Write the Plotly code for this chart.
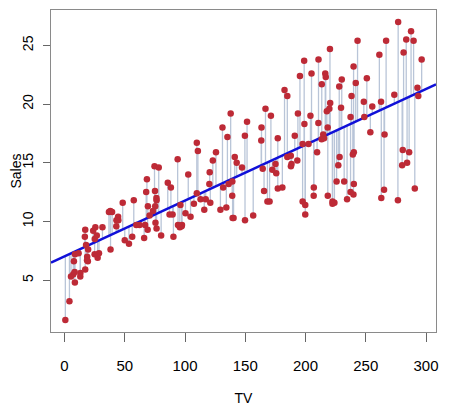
import numpy as np
import plotly.graph_objects as go

# Advertising data: TV budget vs Sales
tv = [230.1, 44.5, 17.2, 151.5, 180.8, 8.7, 57.5, 120.2, 8.6, 199.8,
      66.1, 214.7, 23.8, 97.5, 204.1, 195.4, 67.8, 281.4, 69.2, 147.3,
      218.4, 237.4, 13.2, 228.3, 62.3, 262.9, 142.9, 240.1, 248.8, 70.6,
      292.9, 112.9, 97.2, 265.6, 95.7, 290.7, 266.9, 74.7, 43.1, 228.0,
      202.5, 177.0, 293.6, 206.9, 25.1, 175.1, 89.7, 239.9, 227.2, 66.9,
      199.8, 100.4, 216.4, 182.6, 262.7, 198.9, 7.3, 136.2, 210.8, 210.7,
      53.5, 261.3, 239.3, 102.7, 131.1, 69.0, 31.5, 139.3, 237.4, 216.8,
      199.1, 109.8, 26.8, 129.4, 213.4, 16.9, 27.5, 120.5, 5.4, 116.0,
      76.4, 239.8, 75.3, 68.4, 213.5, 193.2, 76.3, 110.7, 88.3, 109.8,
      134.3, 28.6, 217.7, 250.9, 107.4, 163.3, 197.6, 184.9, 289.7, 135.2,
      222.4, 296.4, 280.2, 187.9, 238.2, 137.9, 25.0, 90.4, 13.1, 255.4,
      225.8, 241.7, 175.7, 209.6, 78.2, 75.1, 139.2, 76.4, 125.7, 19.4,
      141.3, 18.8, 224.0, 123.1, 229.5, 87.2, 7.8, 80.2, 220.3, 59.6,
      0.7, 265.2, 8.4, 219.8, 36.9, 48.3, 25.6, 273.7, 43.0, 184.9,
      73.4, 193.7, 220.5, 104.6, 96.2, 140.3, 240.1, 243.2, 38.0, 44.7,
      280.7, 121.0, 197.6, 171.3, 187.8, 4.1, 93.9, 149.8, 11.7, 131.7,
      172.5, 85.7, 188.4, 163.5, 117.2, 234.5, 17.9, 206.8, 215.4, 284.3,
      50.0, 164.5, 19.6, 168.4, 222.4, 276.9, 248.4, 170.2, 276.7, 165.6,
      156.6, 218.5, 56.2, 287.6, 253.8, 205.0, 139.5, 191.1, 286.0, 18.7,
      39.5, 75.5, 17.2, 166.8, 149.7, 38.2, 94.2, 177.0, 283.6, 232.1]

sales = [22.1, 10.4, 9.3, 18.5, 12.9, 7.2, 11.8, 13.2, 4.8, 10.6,
         8.6, 17.4, 9.2, 9.7, 19.0, 22.4, 12.5, 24.4, 11.3, 14.6,
         18.0, 12.5, 5.6, 15.5, 9.7, 12.0, 15.0, 15.9, 18.9, 10.5,
         21.4, 11.9, 9.6, 17.4, 9.5, 12.8, 25.4, 14.7, 10.1, 21.5,
         16.6, 17.1, 20.7, 12.9, 8.5, 14.9, 10.6, 23.2, 14.8, 9.7,
         11.4, 10.7, 22.6, 21.2, 20.2, 23.7, 5.5, 13.2, 23.8, 18.4,
         8.1, 24.2, 15.7, 14.0, 18.0, 9.3, 9.5, 13.4, 18.9, 22.3,
         18.3, 12.4, 8.8, 11.0, 17.0, 8.7, 6.9, 14.2, 5.3, 11.0,
         11.8, 12.3, 11.3, 13.6, 21.7, 15.2, 12.0, 16.0, 12.9, 16.7,
         11.2, 7.3, 19.4, 22.2, 11.5, 16.9, 11.7, 15.5, 25.4, 17.2,
         11.7, 23.8, 14.8, 14.7, 20.7, 19.2, 7.2, 8.7, 5.3, 19.8,
         13.4, 21.8, 14.1, 15.9, 14.6, 12.6, 12.2, 9.4, 15.9, 6.6,
         15.5, 7.0, 11.6, 15.2, 19.7, 10.6, 6.6, 8.8, 24.7, 9.7,
         1.6, 12.7, 5.7, 19.6, 10.8, 11.6, 9.5, 20.8, 9.6, 20.7,
         10.9, 19.2, 20.1, 10.4, 11.4, 10.3, 13.2, 25.4, 10.9, 10.1,
         16.1, 11.6, 16.6, 19.0, 15.6, 3.2, 15.3, 10.1, 7.3, 12.9,
         14.4, 13.3, 14.9, 18.0, 11.9, 11.9, 8.0, 12.2, 17.1, 15.0,
         8.4, 14.5, 7.6, 11.7, 11.5, 27.0, 20.2, 11.7, 11.8, 12.6,
         10.5, 12.2, 8.7, 26.2, 17.6, 22.6, 10.3, 17.3, 15.9, 6.7,
         10.8, 9.9, 5.9, 19.6, 17.3, 7.6, 9.7, 12.8, 25.5, 13.4]

x_ticks = [0, 50, 100, 150, 200, 250, 300]
y_ticks = [5, 10, 15, 20, 25]

x_range = [-11.2, 308.3]
y_range = [0.58, 28.02]

# least squares fit
slope, intercept = np.polyfit(tv, sales, 1)
fitted = [intercept + slope * t for t in tv]

seg_x, seg_y = [], []
for t, s, f in zip(tv, sales, fitted):
    seg_x += [t, t, None]
    seg_y += [s, f, None]

fig = go.Figure()
fig.add_trace(go.Scatter(x=seg_x, y=seg_y, mode="lines",
                         line=dict(color="#b9c5d8", width=1.3),
                         hoverinfo="skip"))
fig.add_trace(go.Scatter(x=x_range, y=[intercept + slope * v for v in x_range],
                         mode="lines", line=dict(color="#1010d8", width=2.5)))
fig.add_trace(go.Scatter(x=tv, y=sales, mode="markers",
                         marker=dict(color="#bd2a36", size=6.5)))

axis_common = dict(showline=True, mirror=True, linecolor="#8a8a8a", linewidth=1,
                   showgrid=False, zeroline=False, ticks="outside",
                   tickcolor="#666666", tickwidth=1, automargin=False)

# page body adds 8px, so the figure is a bit smaller than the window
fig.update_layout(
    width=466, height=403,
    margin=dict(l=43, r=38, t=2, b=79),
    plot_bgcolor="white", paper_bgcolor="white",
    showlegend=False,
    font=dict(family="Liberation Sans, Arial, sans-serif", color="black"),
    xaxis=dict(range=x_range, tickvals=x_ticks, ticklen=9, ticklabelstandoff=11,
               tickfont=dict(family="Liberation Sans Narrow, Liberation Sans", size=15),
               title=dict(text="TV", font=dict(size=14), standoff=20),
               **axis_common),
    yaxis=dict(range=y_range, tickvals=y_ticks, tickangle=-90, ticklen=7,
               ticklabelstandoff=4,
               tickfont=dict(size=14),
               title=dict(text="Sales", font=dict(size=14), standoff=16),
               **axis_common),
)

fig.write_html("out.html")
